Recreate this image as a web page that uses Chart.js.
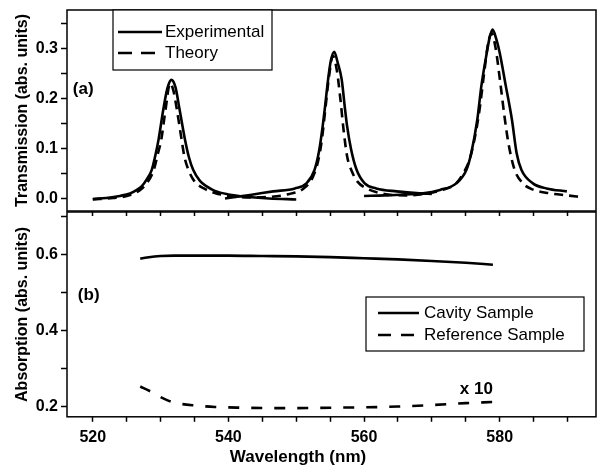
<!DOCTYPE html>
<html>
<head>
<meta charset="utf-8">
<script src="https://cdn.jsdelivr.net/npm/chart.js@4.4.1/dist/chart.umd.min.js"></script>
<style>
  html, body { margin: 0; padding: 0; background: #fff; }
  #wrap { position: relative; width: 597px; height: 468px; overflow: hidden; }
  #panelA { position: absolute; left: 0; top: 0; width: 597px; height: 216px; }
  #panelB { position: absolute; left: 0; top: 206px; width: 597px; height: 262px; }
</style>
</head>
<body>
<div id="wrap">
  <div id="panelA"><canvas id="transChart"></canvas></div>
  <div id="panelB"><canvas id="absChart"></canvas></div>
</div>
<script>
/* ---------- data ---------- */

// (a) experimental transmission, measured in three overlapping windows
const expWl1 = [520, 522, 524, 525.5, 526.5, 527.2, 528, 528.7, 529.2, 529.7, 530.4, 531, 531.6, 532.2, 532.8, 533.6, 534.2, 534.8, 535.8, 536.8, 538, 540, 543, 546, 550];
const expT1  = [0.000, 0.002, 0.006, 0.011, 0.018, 0.025, 0.040, 0.058, 0.085, 0.118, 0.178, 0.220, 0.237, 0.222, 0.178, 0.118, 0.082, 0.058, 0.036, 0.025, 0.016, 0.009, 0.004, 0.001, -0.001];

const expWl2 = [539.5, 541, 543.2, 546.6, 549.8, 551.5, 552.7, 553.4, 553.9, 554.2, 554.7, 555.1, 555.6, 556.1, 556.7, 557.2, 557.5, 558.1, 558.9, 560.1, 561.8, 564.8, 568.2, 570];
const expT2  = [0.001, 0.004, 0.008, 0.015, 0.021, 0.031, 0.058, 0.098, 0.145, 0.178, 0.238, 0.275, 0.293, 0.272, 0.238, 0.178, 0.145, 0.098, 0.058, 0.031, 0.021, 0.015, 0.011, 0.010];

const expWl3 = [560, 563, 566, 568.7, 571.2, 573.6, 575.1, 575.8, 576.7, 577.3, 578.1, 578.5, 578.95, 579.5, 580, 580.9, 581.8, 582.5, 583.2, 584.9, 586.9, 589.9];
const expT3  = [0.006, 0.007, 0.009, 0.011, 0.018, 0.031, 0.058, 0.091, 0.158, 0.225, 0.291, 0.320, 0.337, 0.318, 0.291, 0.225, 0.158, 0.091, 0.058, 0.031, 0.021, 0.015];

// (a) theory
const theoWl = [520, 523, 525, 527, 528, 529, 529.6, 530.1, 530.7, 531.4, 531.9, 532.4, 533.1, 533.5, 534.1, 535, 536.5, 538, 540, 543, 546, 549, 551, 552.5, 553.3, 553.8, 554.3, 554.8, 555.4, 556, 556.5, 557, 557.5, 558.2, 559, 560.5, 563, 566, 569, 571.5, 573.5, 574.8, 575.6, 576.3, 577, 577.7, 578.3, 578.8, 579.4, 580.1, 580.7, 581.3, 582.2, 583.5, 585, 587, 590, 592];
const theoT  = [-0.001, 0.002, 0.006, 0.018, 0.032, 0.058, 0.090, 0.118, 0.175, 0.230, 0.215, 0.178, 0.118, 0.085, 0.058, 0.035, 0.020, 0.012, 0.006, 0.003, 0.004, 0.010, 0.020, 0.045, 0.080, 0.120, 0.180, 0.240, 0.285, 0.255, 0.200, 0.135, 0.085, 0.055, 0.035, 0.020, 0.010, 0.007, 0.010, 0.018, 0.030, 0.055, 0.080, 0.120, 0.175, 0.250, 0.310, 0.330, 0.300, 0.230, 0.165, 0.110, 0.058, 0.030, 0.018, 0.012, 0.007, 0.004];

// (b) absorption
const cavityWl = [527, 528, 530, 532, 535, 540, 545, 550, 555, 560, 565, 570, 575, 579];
const cavityA  = [0.590, 0.593, 0.597, 0.598, 0.598, 0.598, 0.597, 0.596, 0.594, 0.591, 0.588, 0.584, 0.579, 0.574];
const refWl = [527, 528.5, 530, 531.5, 533, 535, 538, 542, 546, 550, 555, 560, 565, 570, 575, 579];
const refA  = [0.253, 0.240, 0.225, 0.213, 0.207, 0.203, 0.199, 0.197, 0.196, 0.196, 0.197, 0.198, 0.200, 0.204, 0.209, 0.212];

// tick positions (all marks) and the ones that carry a label
const wlTicks = [520, 525, 530, 535, 540, 545, 550, 555, 560, 565, 570, 575, 580, 585, 590];
const wlLabelled = [520, 540, 560, 580];
const transTicks = [0, 0.05, 0.1, 0.15, 0.2, 0.25, 0.3, 0.35];
const transLabelled = [0, 0.1, 0.2, 0.3];
const absTicks = [0.2, 0.3, 0.4, 0.5, 0.6, 0.7];
const absLabelled = [0.2, 0.4, 0.6];

/* ---------- helpers and small plugins ---------- */

const FONT = "'Liberation Sans', Arial, Helvetica, sans-serif";
Chart.defaults.font.family = FONT;
Chart.defaults.color = '#000';

const tickFont = { size: 16, weight: 'bold' };
const titleFont = { size: 16, weight: 'bold' };

const pts = (xs, ys) => xs.map((x, i) => ({ x: x, y: ys[i] }));
const inList = (list, v) => list.some(l => Math.abs(l - v) < 1e-9);

// box around the plot area
const frame = {
  id: 'frame',
  afterDraw(chart) {
    const { ctx, chartArea: a } = chart;
    ctx.save();
    ctx.strokeStyle = '#000';
    ctx.lineWidth = 1.5;
    ctx.strokeRect(a.left, a.top, a.right - a.left, a.bottom - a.top);
    ctx.restore();
  }
};

// legend drawn as a boxed block inside the plot
const boxLegend = {
  id: 'boxLegend',
  afterDraw(chart, args, o) {
    const { ctx } = chart;
    ctx.save();
    ctx.fillStyle = '#fff';
    ctx.fillRect(o.left, o.top, o.width, o.height);
    ctx.strokeStyle = '#000';
    ctx.lineWidth = 1.2;
    ctx.strokeRect(o.left, o.top, o.width, o.height);
    const seen = [];
    chart.data.datasets.forEach(ds => {
      if (seen.includes(ds.label)) return;
      const y = o.top + o.firstRow + seen.length * o.rowGap;
      seen.push(ds.label);
      ctx.lineWidth = 2.6;
      ctx.setLineDash(ds.borderDash ? o.dash : []);
      ctx.beginPath();
      ctx.moveTo(o.left + o.lineStart, y);
      ctx.lineTo(o.left + o.lineEnd, y);
      ctx.stroke();
      ctx.setLineDash([]);
      ctx.fillStyle = '#000';
      ctx.font = '17px ' + FONT;
      ctx.textAlign = 'left';
      ctx.textBaseline = 'middle';
      ctx.fillText(ds.label, o.left + o.textStart, y);
    });
    ctx.restore();
  }
};

// panel letters and other notes, placed in data coordinates
const panelNotes = {
  id: 'panelNotes',
  afterDatasetsDraw(chart, args, o) {
    const { ctx, scales } = chart;
    ctx.save();
    (o.items || []).forEach(n => {
      ctx.font = 'bold 17px ' + FONT;
      ctx.fillStyle = '#000';
      ctx.textAlign = n.align || 'left';
      ctx.textBaseline = 'middle';
      ctx.fillText(n.text, scales.x.getPixelForValue(n.x), scales.y.getPixelForValue(n.y));
    });
    ctx.restore();
  }
};

function lineSet(label, data, dash) {
  return {
    label: label,
    data: data,
    borderColor: '#000',
    borderWidth: 2.6,
    borderDash: dash,
    pointRadius: 0,
    fill: false,
    cubicInterpolationMode: 'monotone'
  };
}

function xAxis(showLabels) {
  return {
    type: 'linear',
    min: 516.2,
    max: 594.2,
    afterBuildTicks: s => { s.ticks = wlTicks.map(v => ({ value: v })); },
    afterFit: s => {
      s.height = showLabels ? 30.8 : 5;
      s.paddingLeft = 0; s.paddingRight = 0;
    },
    ticks: {
      display: showLabels,
      autoSkip: false,
      maxRotation: 0,
      padding: 6,
      font: tickFont,
      callback: v => inList(wlLabelled, v) ? String(v) : ''
    },
    grid: { drawOnChartArea: false, drawTicks: true, tickLength: 5, color: '#000', tickWidth: 1.5 },
    border: { display: false }
  };
}

function yAxis(min, max, ticks, labelled, title) {
  return {
    min: min,
    max: max,
    afterBuildTicks: s => { s.ticks = ticks.map(v => ({ value: v })); },
    afterFit: s => {
      s.width = 67;
      s.paddingTop = 0; s.paddingBottom = 0;
    },
    ticks: {
      padding: 3,
      font: tickFont,
      callback: v => inList(labelled, v) ? v.toFixed(1) : ''
    },
    grid: { drawOnChartArea: false, drawTicks: true, tickLength: 6, color: '#000', tickWidth: 1.5 },
    border: { display: false },
    title: { display: true, text: title, font: titleFont, color: '#000', padding: { top: 13, bottom: 0 } }
  };
}

/* ---------- panel (a): transmission ---------- */

new Chart(document.getElementById('transChart'), {
  type: 'line',
  data: {
    datasets: [
      lineSet('Experimental', pts(expWl1, expT1)),
      lineSet('Experimental', pts(expWl2, expT2)),
      lineSet('Experimental', pts(expWl3, expT3)),
      lineSet('Theory', pts(theoWl, theoT), [9, 6])
    ]
  },
  options: {
    responsive: true,
    maintainAspectRatio: false,
    animation: false,
    events: [],
    layout: { padding: { top: 10, right: 1, left: 0, bottom: 0 } },
    scales: {
      x: xAxis(false),
      y: yAxis(-0.024, 0.376, transTicks, transLabelled, 'Transmission (abs. units)')
    },
    plugins: {
      legend: { display: false },
      tooltip: { enabled: false },
      boxLegend: { left: 113, top: 10, width: 159, height: 60, firstRow: 22, rowGap: 21, lineStart: 5, lineEnd: 49, textStart: 52, dash: [14, 9] },
      panelNotes: { items: [{ text: '(a)', x: 517.05, y: 0.218 }] }
    }
  },
  plugins: [frame, boxLegend, panelNotes]
});

/* ---------- panel (b): absorption ---------- */

new Chart(document.getElementById('absChart'), {
  type: 'line',
  data: {
    datasets: [
      lineSet('Cavity Sample', pts(cavityWl, cavityA)),
      lineSet('Reference Sample', pts(refWl, refA), [11, 12])
    ]
  },
  options: {
    responsive: true,
    maintainAspectRatio: false,
    animation: false,
    events: [],
    layout: { padding: { top: 6, right: 1, left: 0, bottom: 0 } },
    scales: {
      x: xAxis(true),
      y: yAxis(0.173, 0.713, absTicks, absLabelled, 'Absorption (abs. units)')
    },
    plugins: {
      legend: { display: false },
      tooltip: { enabled: false },
      title: { display: true, position: 'bottom', text: 'Wavelength (nm)', font: { size: 17, weight: 'bold' }, color: '#000', padding: { top: 0, bottom: 0 } },
      boxLegend: { left: 366, top: 91, width: 218, height: 54, firstRow: 16, rowGap: 22, lineStart: 12, lineEnd: 53, textStart: 58, dash: [13, 10] },
      panelNotes: { items: [
        { text: '(b)', x: 517.8, y: 0.4925 },
        { text: 'x 10', x: 579.0, y: 0.246, align: 'right' }
      ] }
    }
  },
  plugins: [frame, boxLegend, panelNotes]
});
</script>
</body>
</html>
